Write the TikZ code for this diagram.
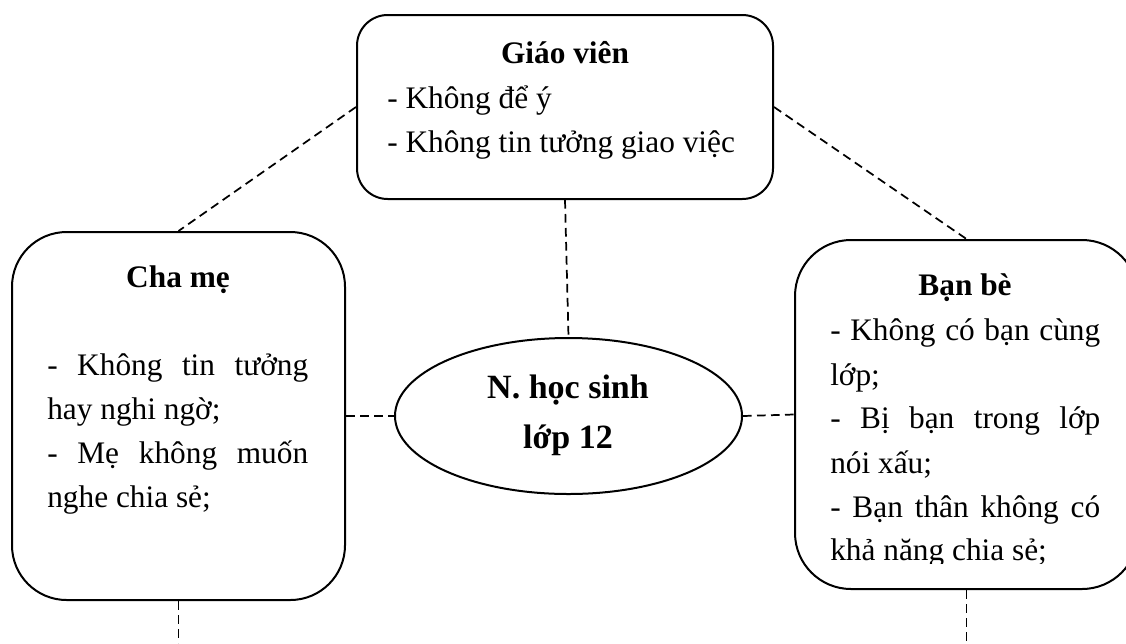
\documentclass[tikz,border=0pt]{standalone}
\usepackage{fontspec}
\setmainfont{Liberation Serif}
\usetikzlibrary{shapes.geometric}
\begin{document}
\begin{tikzpicture}[x=0.75pt,y=-0.75pt,
  box/.style={draw,line width=1.5pt,rectangle,inner sep=0pt},
  oval/.style={draw,line width=1.5pt,ellipse,inner sep=0pt,
    minimum width=260.25pt,minimum height=117pt},
  link/.style={line width=1.3pt,dash pattern=on 6.5pt off 4pt},
  txt/.style={inner sep=0pt,anchor=base west,font=\fontsize{23.5}{28}\selectfont},
  ttl/.style={inner sep=0pt,anchor=base,font=\fontsize{23.5}{28}\selectfont\bfseries},
  core/.style={inner sep=0pt,anchor=base,font=\fontsize{25.5}{30}\selectfont\bfseries}]
\useasboundingbox (0,0) rectangle (1126,643);

% boxes
\node[box,rounded corners=23pt,minimum width=312pt,minimum height=138pt] (T) at (565,107) {};
\node[box,rounded corners=41pt,minimum width=249.75pt,minimum height=276pt] (L) at (178.5,416) {};
\node[box,rounded corners=42pt,minimum width=257.25pt,minimum height=261.75pt] (R) at (966.5,414.5) {};
\node[oval] (E) at (568.5,416) {};

% connectors
\coordinate (Lend) at (178.5,643);
\coordinate (Rend) at (966.5,643);
\draw[link] (T.south) -- (E.north);
\draw[link] (L.east) -- (E.west);
\draw[link] (E.east) -- (R.west);
\draw[link] (T.west) -- (L.north);
\draw[link] (T.east) -- (R.north);
\draw[link] (L.south) -- (Lend);
\draw[link] (R.south) -- (Rend);

% teachers
\node[ttl] (t0) at (565,63) {Giáo viên};
\node[txt] (t1) at (387,108) {- Không để ý};
\node[txt] (t2) at (387,152) {- Không tin tưởng giao việc};

% parents
\node[ttl] (l0) at (178,287) {Cha mẹ};
\node[txt] (l1) at (47,375) {\makebox[195.75pt][s]{- Không tin tưởng}};
\node[txt] (l2) at (47,419) {hay nghi ngờ;};
\node[txt] (l3) at (47,463) {\makebox[195.75pt][s]{- Mẹ không muốn}};
\node[txt] (l4) at (47,507) {nghe chia sẻ;};

% friends (text cut off at the frame's inner edge)
\node[ttl] (r0) at (965,295) {Bạn bè};
\begin{scope}
\clip (790,240) rectangle (1140,563);
\node[txt] (r1) at (830,340) {\makebox[202.5pt][s]{- Không có bạn cùng}};
\node[txt] (r2) at (830,385) {lớp;};
\node[txt] (r3) at (830,428) {\makebox[202.5pt][s]{- Bị bạn trong lớp}};
\node[txt] (r4) at (830,473) {nói xấu;};
\node[txt] (r5) at (830,517) {\makebox[202.5pt][s]{- Bạn thân không có}};
\node[txt] (r6) at (830,560) {khả năng chia sẻ;};
\end{scope}

% centre
\node[core] (e1) at (568,398) {N. học sinh};
\node[core] (e2) at (568,448) {lớp 12};
\end{tikzpicture}
\end{document}
